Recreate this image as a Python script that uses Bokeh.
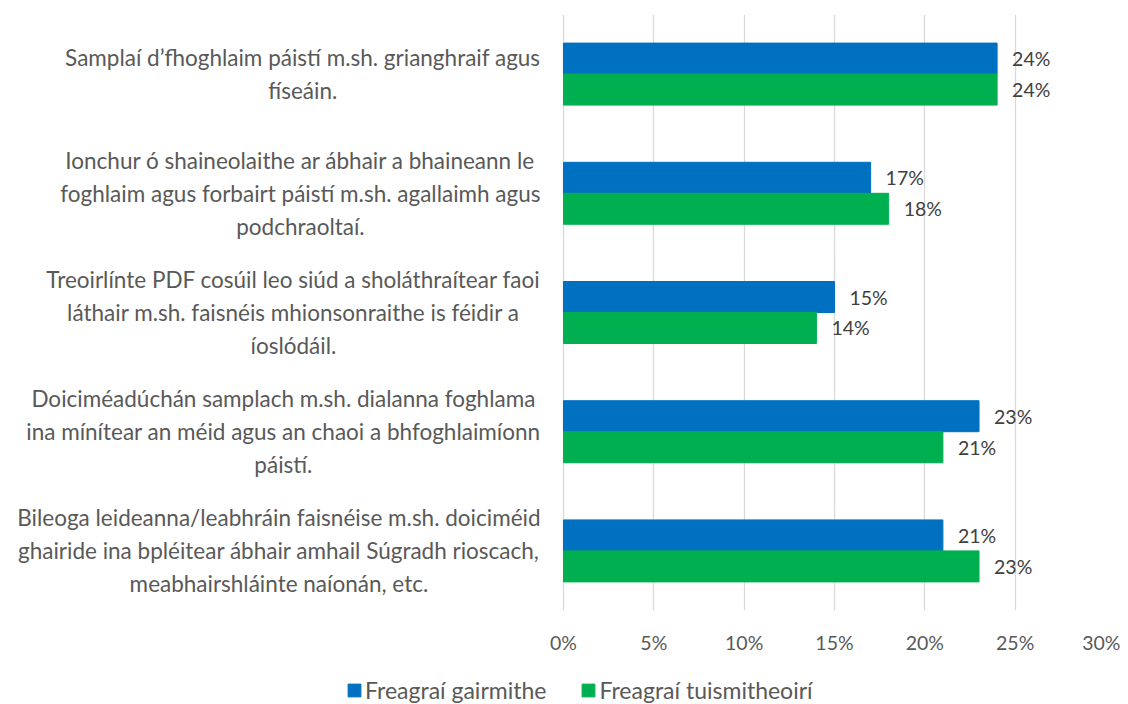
from bokeh.plotting import figure
from bokeh.layouts import column
from bokeh.models import (Range1d, FactorRange, FixedTicker, Legend, LegendItem,
                          ColumnDataSource, CustomJSTickFormatter)
from bokeh.transform import dodge
from bokeh.core.properties import value
from bokeh.embed import file_html
from bokeh.resources import INLINE

categories = [
    "Samplaí d\u2019fhoghlaim páistí m.sh. grianghraif agus\nfíseáin.",
    "Ionchur ó shaineolaithe ar ábhair a bhaineann le\nfoghlaim agus forbairt páistí m.sh. agallaimh agus\npodchraoltaí.",
    "Treoirlínte PDF cosúil leo siúd a sholáthraítear faoi\nláthair m.sh. faisnéis mhionsonraithe is féidir a\níoslódáil.",
    "Doiciméadúchán samplach m.sh. dialanna foghlama\nina mínítear an méid agus an chaoi a bhfoghlaimíonn\npáistí.",
    "Bileoga leideanna/leabhráin faisnéise m.sh. doiciméid\nghairide ina bpléitear ábhair amhail Súgradh rioscach,\nmeabhairshláinte naíonán, etc.",
]
keys = ["c1", "c2", "c3", "c4", "c5"]
gairmithe = [24, 17, 15, 23, 21]
tuismitheoiri = [24, 18, 14, 21, 23]
series_names = ["Freagraí gairmithe", "Freagraí tuismitheoirí"]
x_ticks = [0, 5, 10, 15, 20, 25, 30]

BLUE = "#0070C0"
GREEN = "#00B050"
FONT = "Lato"

src = ColumnDataSource(dict(
    key=keys,
    label=categories,
    g=gairmithe,
    t=tuismitheoiri,
    gl=[f"{v}%" for v in gairmithe],
    tl=[f"{v}%" for v in tuismitheoiri],
    lx=[-1.27] * len(keys),
))

p = figure(width=1120, height=660, output_backend="svg", toolbar_location=None,
           x_range=Range1d(-31.16, 30), y_range=FactorRange(factors=keys[::-1]),
           min_border_left=0, min_border_right=15, min_border_top=14,
           min_border_bottom=50)
p.outline_line_color = None
p.yaxis.visible = False
p.ygrid.grid_line_color = None

p.xgrid.ticker = FixedTicker(ticks=x_ticks)
p.xgrid.grid_line_color = "#D9D9D9"
p.xgrid.grid_line_width = 1.3
p.xaxis.ticker = FixedTicker(ticks=x_ticks)
p.xaxis.formatter = CustomJSTickFormatter(code="return tick + '%';")
p.xaxis.axis_line_color = None
p.xaxis.major_tick_line_color = None
p.xaxis.minor_tick_line_color = None
p.xaxis.major_label_standoff = 14
p.xaxis.major_label_text_font = FONT
p.xaxis.major_label_text_font_size = "19.5px"
p.xaxis.major_label_text_color = "#595959"

bh = 0.26
rb = p.hbar(y=dodge("key", bh / 2, range=p.y_range), right="g", left=0, height=bh,
            color=BLUE, source=src)
rg = p.hbar(y=dodge("key", -bh / 2, range=p.y_range), right="t", left=0, height=bh,
            color=GREEN, source=src)

p.text(x="g", y=dodge("key", bh / 2, range=p.y_range), text="gl", source=src,
       x_offset=15, text_align="left", text_baseline="middle",
       text_font=value(FONT), text_font_size="19.5px", text_color="#404040")
p.text(x="t", y=dodge("key", -bh / 2, range=p.y_range), text="tl", source=src,
       x_offset=15, text_align="left", text_baseline="middle",
       text_font=value(FONT), text_font_size="19.5px", text_color="#404040")

p.text(x="lx", y="key", text="label", source=src, anchor="center_right",
       text_align="center", text_baseline="middle", text_line_height=1.22,
       text_font=value(FONT), text_font_size="22.5px", text_color="#595959")

# Legend strip below the chart (legend-only swatch renderers, nothing drawn)
lg = figure(width=1120, height=44, output_backend="svg", toolbar_location=None,
            x_range=Range1d(0, 1), y_range=Range1d(0, 1),
            min_border_left=0, min_border_right=0, min_border_top=0,
            min_border_bottom=0)
lg.outline_line_color = None
lg.axis.visible = False
lg.grid.visible = False
nan = float("nan")
lb = lg.hbar(y=[nan], right=[nan], left=[nan], height=0, color=BLUE)
lgr = lg.hbar(y=[nan], right=[nan], left=[nan], height=0, color=GREEN)
legend = Legend(items=[LegendItem(label=series_names[0], renderers=[lb], index=0),
                       LegendItem(label=series_names[1], renderers=[lgr], index=0)],
                orientation="horizontal", location=(346, 0),
                glyph_width=16, glyph_height=16, label_text_font=FONT,
                label_text_font_size="23px", label_text_color="#595959",
                spacing=34, label_standoff=3, border_line_color=None,
                background_fill_alpha=0, margin=0, padding=0)
lg.add_layout(legend, "center")

open("out.html", "w").write(file_html(column(p, lg, spacing=0), INLINE))
